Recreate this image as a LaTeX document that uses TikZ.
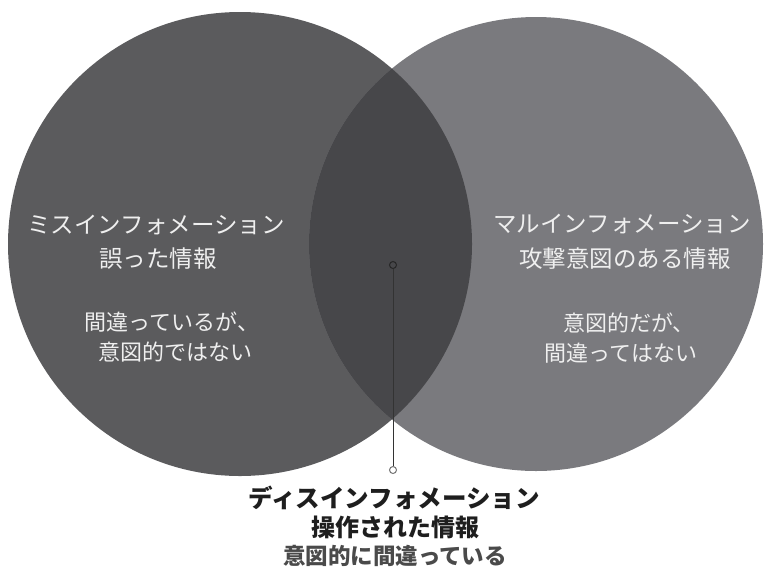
\documentclass[tikz,border=0pt]{standalone}
\usepackage{fontspec}
\newfontfamily\jp{Noto Sans CJK JP}
\definecolor{leftgray}{HTML}{5B5B5D}
\definecolor{rightgray}{HTML}{7A7A7E}
\definecolor{lensgray}{HTML}{47474A}
\definecolor{wtext}{HTML}{EFEFEF}
\definecolor{btext}{HTML}{1E1E1E}
\definecolor{gtext}{HTML}{4A4A4A}
\tikzset{
  venn/.style={circle, inner sep=0pt, minimum size=#1},
  wlabel/.style={text=wtext, font=\jp\fontsize{23.5}{28}\selectfont, align=center, inner sep=0pt},
  wsub/.style={text=wtext, font=\jp\fontsize{22}{30}\selectfont, align=center, inner sep=0pt},
  pin/.style={circle, draw=#1, inner sep=0pt, minimum size=7pt, line width=1pt},
  leader/.style={draw=black!80, line width=1pt}
}
\begin{document}
\begin{tikzpicture}[x=1pt,y=-1pt]
\useasboundingbox (0,0) rectangle (767,568);
% circles
\node[venn=464pt, fill=leftgray] (L) at (240,244) {};
\node[venn=454pt, fill=rightgray] (R) at (536,244) {};
\begin{scope}
  \clip (240,244) circle (232);
  \fill[lensgray] (536,244) circle (227);
\end{scope}
% leader
\node[pin=black!85, fill=lensgray] (dot) at (393,265) {};
\node[pin=black!55, fill=white] (end) at (393,470) {};
\draw[leader] (dot) -- (end);
% left texts
\node[wlabel] (l1) at (156,225) {ミスインフォメーション};
\node[wlabel] (l2) at (158,259) {誤った情報};
\node[wsub] (l3) at (172,322) {間違っているが、};
\node[wsub] (l4) at (175,352) {意図的ではない};
% right texts
\node[wlabel] (r1) at (622,224) {マルインフォメーション};
\node[wlabel] (r2) at (625,259) {攻撃意図のある情報};
\node[wsub] (r3) at (629,323) {意図的だが、};
\node[wsub] (r4) at (621,353) {間違ってはない};
% bottom texts
\node[text=btext, font=\jp\bfseries\fontsize{24.5}{28}\selectfont, inner sep=0pt] (b1) at (394,498) {ディスインフォメーション};
\node[text=btext, font=\jp\bfseries\fontsize{24}{28}\selectfont, inner sep=0pt] (b2) at (395,527) {操作された情報};
\node[text=gtext, font=\jp\bfseries\fontsize{22.5}{26}\selectfont, inner sep=0pt] (b3) at (395,556) {意図的に間違っている};
\end{tikzpicture}
\end{document}
